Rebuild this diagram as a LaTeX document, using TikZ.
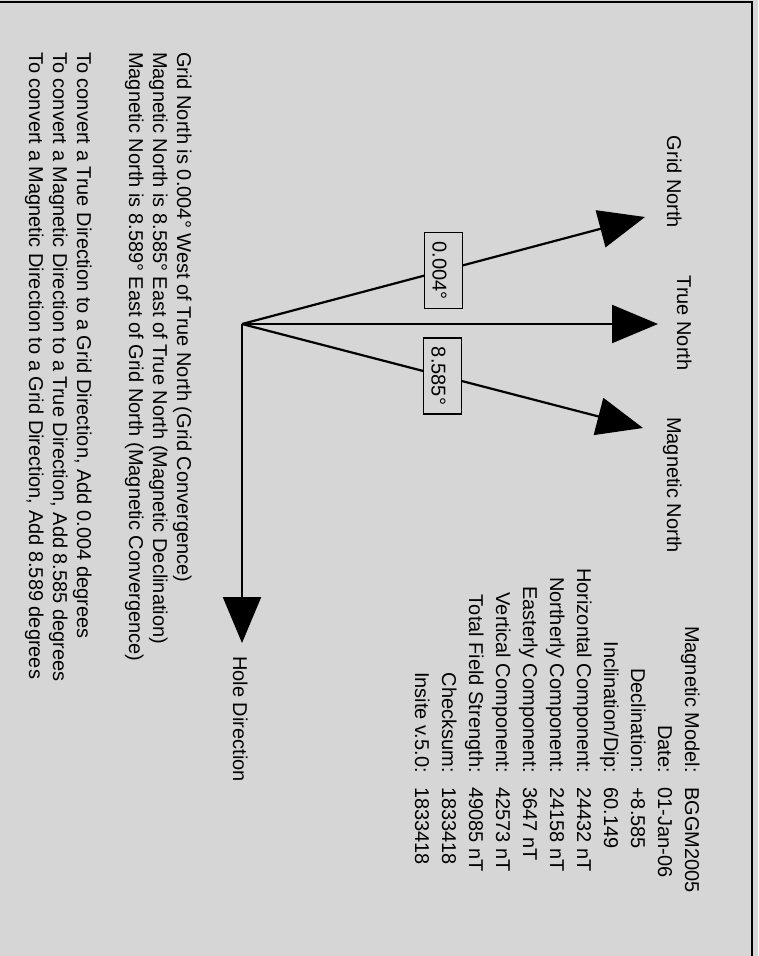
\documentclass[tikz,border=0pt]{standalone}
\usepackage{fontspec}
\setmainfont{Liberation Sans}
\usepackage[]{tikz}
\usetikzlibrary{arrows.meta}
\definecolor{scanbg}{gray}{0.84}
\tikzset{pointer/.style={line width=2.2pt,-{Triangle[length=46pt,width=38pt]}}}
\tikzset{degbox/.style={draw,line width=1.8pt,fill=scanbg,rotate=-90,inner xsep=9pt,inner ysep=8pt,text height=22pt,text depth=0pt,font=\fontsize{20}{24}\selectfont}}
\tikzset{vtext/.style={rotate=-90,inner sep=0pt,font=\fontsize{20}{24}\selectfont}}
\tikzset{keytext/.style={vtext,anchor=base east}}
\tikzset{valtext/.style={vtext,anchor=base west}}

\begin{document}
\begin{tikzpicture}[x=1pt,y=-1pt]
            \useasboundingbox (0,0) rectangle (758,956);
            \fill[scanbg] (0,0) rectangle (758,956);
            \draw[line width=2pt] (0,2) -- (752,2) -- (752,956);
            % the four directions
            \coordinate (origin) at (242,324);
            \coordinate (gridtip) at (645,217);
            \coordinate (truetip) at (658,324);
            \coordinate (magtip) at (643,428);
            \coordinate (holetip) at (242,643);
            \draw[pointer] (origin) -- node[degbox,pos=0.5] (gridbox) {0.004°} (gridtip);
            \draw[pointer] (origin) -- (truetip);
            \draw[pointer] (origin) -- node[degbox,pos=0.5] (magbox) {8.585°} (magtip);
            \draw[pointer] (origin) -- (holetip);
            \node[vtext,anchor=base] (gridlabel) at (667,182) {Grid North};
            \node[vtext,anchor=base] (truelabel) at (677,323) {True North};
            \node[vtext,anchor=base west] (maglabel) at (667,417) {Magnetic North};
            \node[vtext,anchor=base west] (holelabel) at (233,656) {Hole Direction};
            % field model table
            \node[keytext] (modelkey) at (685,773) {Magnetic Model:};
            \node[valtext] (modelval) at (685,787) {BGGM2005};
            \node[keytext] (datekey) at (658,773) {Date:};
            \node[valtext] (dateval) at (658,787) {01-Jan-06};
            \node[keytext] (declkey) at (631,773) {Declination:};
            \node[valtext] (declval) at (631,787) {+8.585};
            \node[keytext] (inclkey) at (604,773) {Inclination/Dip:};
            \node[valtext] (inclval) at (604,787) {60.149};
            \node[keytext] (horkey) at (577,773) {Horizontal Component:};
            \node[valtext] (horval) at (577,787) {24432 nT};
            \node[keytext] (northkey) at (550,773) {Northerly Component:};
            \node[valtext] (northval) at (550,787) {24158 nT};
            \node[keytext] (eastkey) at (523,773) {Easterly Component:};
            \node[valtext] (eastval) at (523,787) {3647 nT};
            \node[keytext] (vertkey) at (496,773) {Vertical Component:};
            \node[valtext] (vertval) at (496,787) {42573 nT};
            \node[keytext] (totalkey) at (469,773) {Total Field Strength:};
            \node[valtext] (totalval) at (469,787) {49085 nT};
            \node[keytext] (sumkey) at (442,773) {Checksum:};
            \node[valtext] (sumval) at (442,787) {1833418};
            \node[keytext] (insitekey) at (415,773) {Insite v.5.0:};
            \node[valtext] (insiteval) at (415,787) {1833418};
            % notes
            \node[valtext] (noteone) at (177,52) {Grid North is 0.004° West of True North (Grid Convergence)};
            \node[valtext] (notetwo) at (153,52) {Magnetic North is 8.585° East of True North (Magnetic Declination)};
            \node[valtext] (notethree) at (129,52) {Magnetic North is 8.589° East of Grid North (Magnetic Convergence)};
            \node[valtext] (convone) at (77,52) {To convert a True Direction to a Grid Direction, Add 0.004 degrees};
            \node[valtext] (convtwo) at (53,52) {To convert a Magnetic Direction to a True Direction, Add 8.585 degrees};
            \node[valtext] (convthree) at (29,52) {To convert a Magnetic Direction to a Grid Direction, Add 8.589 degrees};
        \end{tikzpicture}
\end{document}
